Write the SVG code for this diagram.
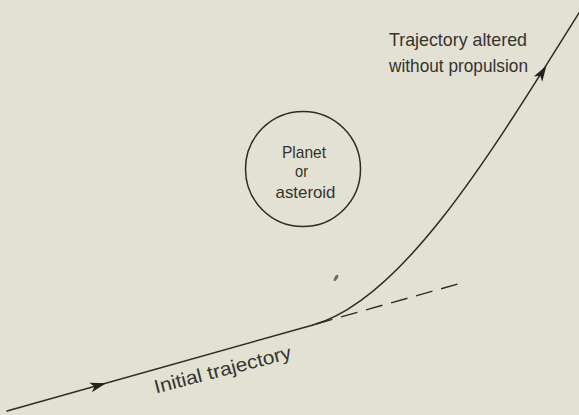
<svg xmlns="http://www.w3.org/2000/svg" width="579" height="415" viewBox="0 0 579 415">
  <style>
    .ln { fill: none; stroke: #2b2b27; stroke-width: 1.5; stroke-linecap: round; }
    .dash { fill: none; stroke: #2b2b27; stroke-width: 1.4; stroke-dasharray: 17 9; }
    .txt { font-family: "Liberation Sans", "DejaVu Sans", sans-serif; font-size: 19px; fill: #34342f; }
    .ctxt { font-family: "Liberation Sans", "DejaVu Sans", sans-serif; font-size: 17px; fill: #34342f; }
    .arrow { fill: #22221f; }
  </style>
  <defs>
    <path id="arrowhead" d="M0,0 L-16,-5 L-12,0 L-16,5 Z"/>
  </defs>
  <rect width="579" height="415" fill="#e3e0d4"/>

  <g id="connectors">
    <path id="initial-trajectory" class="ln" d="M7,411 L313,325"/>
    <path id="straight-continuation" class="dash" d="M316,324 L458,284"/>
    <path id="altered-trajectory" class="ln" d="M313,325 C403,300 492,152 582,8"/>
    <use href="#arrowhead" class="arrow" transform="translate(106,383.2) rotate(-15.7)"/>
    <use href="#arrowhead" class="arrow" transform="translate(546.5,65.5) rotate(-58)"/>
  </g>

  <g id="planet">
    <circle cx="303" cy="169" r="57.5" class="ln"/>
    <text class="ctxt" x="282" y="157.5" textLength="44" lengthAdjust="spacingAndGlyphs">Planet</text>
    <text class="ctxt" x="295" y="177" textLength="13" lengthAdjust="spacingAndGlyphs">or</text>
    <text class="ctxt" x="275.5" y="198" textLength="60" lengthAdjust="spacingAndGlyphs">asteroid</text>
  </g>

  <g id="label-altered">
    <text class="txt" x="389" y="46" textLength="138" lengthAdjust="spacingAndGlyphs">Trajectory altered</text>
    <text class="txt" x="389" y="72" textLength="139" lengthAdjust="spacingAndGlyphs">without propulsion</text>
  </g>

  <g id="label-initial">
    <text class="txt" transform="translate(156,393.5) rotate(-14.5)" x="0" y="0" textLength="141" lengthAdjust="spacingAndGlyphs">Initial trajectory</text>
  </g>

  <ellipse cx="336" cy="278" rx="1.6" ry="3.6" transform="rotate(30 336 278)" fill="#6d6d66"/>
</svg>
